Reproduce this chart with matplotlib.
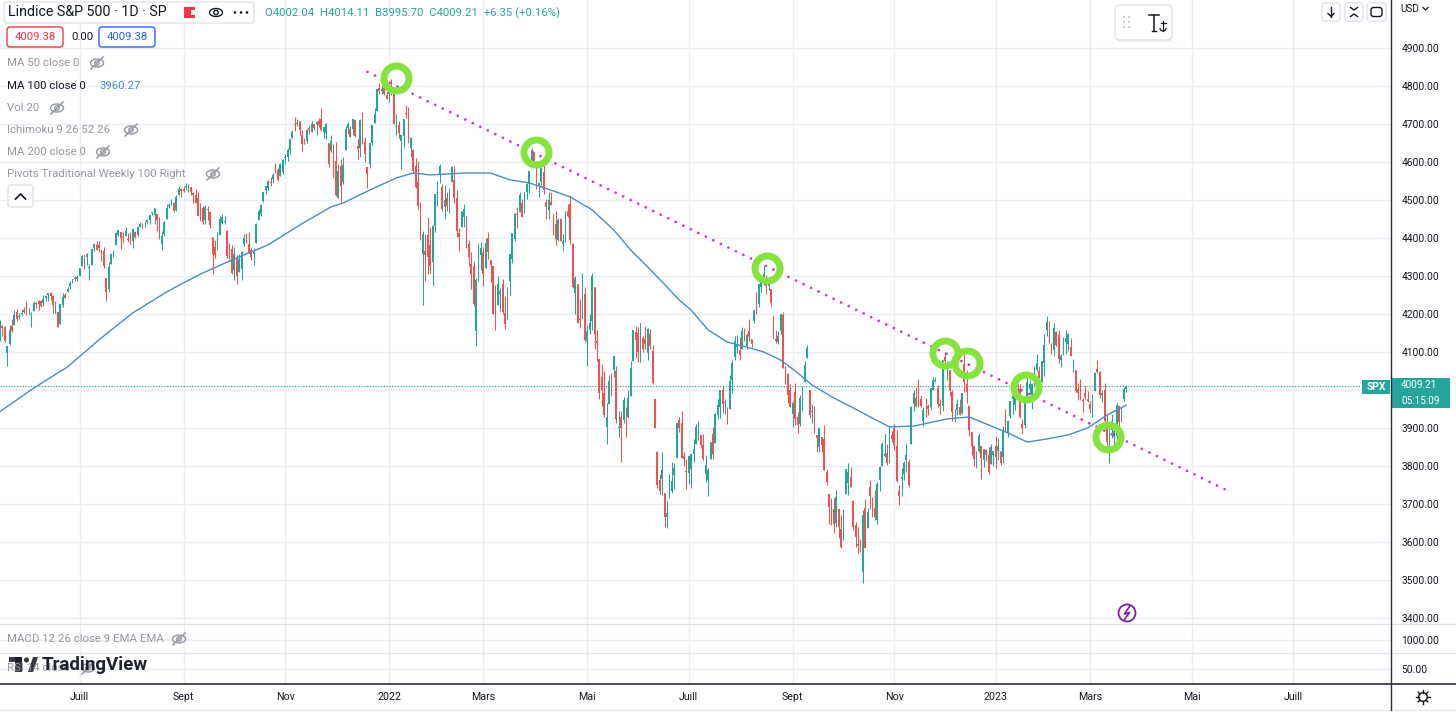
import matplotlib
matplotlib.use('Agg')
import matplotlib.pyplot as plt
from matplotlib.patches import FancyBboxPatch, Rectangle, Ellipse, Circle, Arc
import numpy as np

plt.rcParams['font.family'] = ['Roboto', 'DejaVu Sans']

# ---------------- data (S&P 500 daily, 13 May 2021 -> 22 Mar 2023) ----------------
opens = [
 4074,4130,4169,4165,4098,4122,4168,4170,4205,4192,4201,4210,
 4217,4207,4191,4207,4229,4234,4233,4229,4242,4249,4255,4248,4220,4204,4174,4224,4249,4257,4274,4285,4293,4291,
 4301,4327,4356,4351,4321,4330,4373,4382,4381,4369,4367,4296,4265,4331,4361,4381,4409,4416,4402,4404,4396,
 4407,4392,4416,4408,4429,4438,4436,4442,4447,4465,4461,4462,4440,4383,4410,4450,4484,4490,4493,4474,4514,4529,
 4529,4535,4532,4535,4518,4513,4506,4474,4479,4447,4477,4469,4402,4375,4368,4407,4439,4443,4419,4363,4370,
 4317,4348,4310,4319,4383,4406,4385,4368,4358,4387,4447,4464,4498,4525,4532,4547,4554,4578,4580,4562,4573,
 4610,4613,4631,4662,4700,4701,4707,4670,4660,4655,4689,4680,4701,4700,4708,4712,4679,4675,4650,4629,4640,
 4602,4504,4589,4548,4631,4690,4688,4688,4711,4642,4637,4720,4652,4587,4594,4651,4703,4733,4795,4788,4795,4775,
 4778,4804,4787,4693,4697,4655,4669,4729,4734,4637,4632,4589,4547,4471,4357,4367,4408,4381,4337,4432,
 4519,4567,4535,4482,4505,4480,4547,4553,4506,4413,4430,4455,4457,4385,4332,4325,4155,4298,4355,
 4364,4322,4401,4342,4327,4202,4223,4253,4279,4202,4188,4288,4345,4398,4462,4469,4493,4470,4522,4541,4603,4624,4599,
 4540,4547,4573,4495,4474,4495,4462,4437,4395,4449,4385,4390,4472,4489,4385,4256,4278,4187,4222,4253,
 4130,4159,4181,4271,4129,4081,4035,3991,3903,3963,4013,4052,4051,3900,3928,3920,3943,3930,3985,4077,4152,
 4150,4096,4137,4134,4097,4148,4102,3975,3838,3763,3765,3729,3665,3715,3734,3775,3821,3920,3913,3826,3786,
 3782,3793,3831,3858,3889,3881,3855,3779,3764,3819,3883,3860,3935,3955,3999,3966,3953,3951,4027,4087,
 4113,4105,4108,4154,4116,4156,4134,4181,4227,4225,4270,4290,4281,4274,4266,4195,4134,4126,4154,4198,4034,4041,4000,
 3937,3994,3930,3910,3959,4022,4084,4000,3941,3933,3881,3849,3876,3872,3783,3727,3682,3687,3651,3687,3633,
 3610,3726,3754,3771,3707,3646,3595,3590,3520,3690,3638,3746,3696,3689,3657,3763,3799,3825,3834,3808,3881,
 3901,3853,3734,3766,3780,3817,3810,3859,3964,3978,4007,3976,3919,3966,3957,3956,4000,4024,4005,3964,3958,
 4087,4041,4052,3996,3934,3947,3954,3940,4069,4016,3958,3890,3853,3811,3840,3853,3815,3843,3829,3805,3829,
 3853,3840,3840,3823,3910,3888,3932,3977,3961,3999,4003,3911,3909,3979,4002,3982,4036,4053,4049,4021,
 4070,4158,4137,4119,4105,4153,4144,4078,4097,4126,4120,4114,4078,4052,4002,4018,3973,3993,3977,
 3964,3939,3998,4055,4048,3988,3999,3912,3835,3894,3876,3878,3958,3917,3975,4002.04]
highs = [
 4131,4183,4171,4169,4117,4172,4188,4210,4213,4203,4213,4218,
 4234,4217,4204,4234,4232,4237,4237,4249,4249,4255,4257,4251,4233,4205,4226,4255,4256,4271,4286,4292,4300,4302,
 4321,4355,4356,4361,4331,4372,4386,4393,4393,4369,4375,4296,4337,4359,4369,4415,4422,4416,4416,4430,4412,
 4415,4423,4417,4429,4441,4439,4445,4449,4461,4468,4480,4462,4454,4418,4444,4489,4493,4502,4495,4513,4537,4532,
 4537,4546,4541,4535,4521,4529,4520,4492,4485,4487,4485,4471,4402,4394,4416,4457,4464,4457,4420,4386,4382,
 4376,4355,4359,4365,4410,4412,4416,4374,4373,4439,4476,4487,4520,4537,4552,4560,4572,4598,4584,4597,4608,
 4621,4636,4664,4683,4718,4714,4708,4685,4664,4688,4698,4709,4701,4708,4717,4743,4691,4702,4650,4672,4647,
 4652,4595,4608,4612,4694,4706,4696,4713,4711,4660,4712,4732,4666,4588,4651,4697,4741,4791,4808,4804,4808,4787,
 4797,4819,4798,4726,4708,4673,4714,4749,4744,4666,4633,4611,4603,4495,4418,4411,4454,4429,4433,4517,
 4550,4595,4542,4540,4521,4531,4590,4589,4527,4427,4472,4490,4457,4395,4362,4340,4295,4385,4389,
 4375,4401,4416,4343,4327,4277,4300,4268,4291,4248,4271,4358,4413,4466,4481,4522,4502,4520,4546,4576,4637,4627,4603,
 4547,4583,4593,4503,4521,4521,4464,4471,4453,4453,4411,4471,4489,4513,4386,4299,4279,4240,4308,4270,
 4169,4200,4308,4271,4158,4082,4069,4050,3965,4039,4046,4090,4063,3946,3944,3982,3955,3999,4075,4159,4169,
 4166,4177,4143,4169,4164,4160,4119,3975,3839,3778,3837,3729,3707,3779,3810,3809,3913,3928,3946,3837,3818,
 3827,3832,3871,3910,3919,3881,3885,3829,3796,3864,3903,3939,3975,3999,4013,3976,3954,4040,4079,4141,
 4144,4140,4167,4162,4151,4186,4135,4211,4257,4280,4302,4325,4302,4292,4266,4195,4159,4156,4200,4204,4062,4044,4015,
 3970,4019,3942,3987,4011,4076,4119,4000,3962,3957,3881,3901,3877,3908,3791,3727,3716,3717,3736,3687,3672,
 3687,3791,3807,3798,3710,3653,3640,3608,3685,3712,3689,3762,3719,3736,3758,3800,3862,3886,3859,3905,3893,
 3911,3894,3750,3796,3814,3859,3818,3958,4001,4009,4028,3983,3955,3980,3962,4004,4034,4035,4013,3976,4080,
 4101,4077,4052,4001,3951,3975,3977,3991,4101,4053,3958,3890,3855,3839,3888,3853,3846,3846,3849,3858,3840,
 3879,3874,3840,3906,3950,3920,3971,3997,4003,4015,4015,3923,3973,4039,4027,4019,4061,4095,4063,4077,
 4148,4195,4182,4124,4176,4156,4157,4094,4139,4159,4149,4136,4082,4052,4018,4028,3979,4010,3998,
 3972,3990,4048,4079,4051,4000,4018,3934,3906,3937,3894,3965,3959,3956,4009,4014.11]
lows = [
 4069,4130,4143,4125,4062,4118,4152,4170,4182,4187,4197,4203,
 4197,4198,4167,4207,4215,4210,4218,4221,4233,4234,4238,4202,4203,4165,4174,4218,4241,4257,4267,4281,4286,4287,
 4301,4327,4319,4330,4289,4330,4365,4368,4362,4340,4322,4234,4259,4331,4351,4381,4406,4372,4387,4404,4389,
 4385,4374,4400,4404,4429,4425,4430,4436,4436,4461,4438,4418,4397,4368,4406,4450,4479,4486,4468,4471,4513,4508,
 4522,4527,4522,4513,4493,4493,4457,4446,4436,4438,4448,4427,4305,4348,4368,4407,4436,4436,4347,4346,4306,
 4289,4279,4310,4290,4378,4387,4360,4342,4330,4387,4447,4458,4496,4515,4527,4537,4545,4570,4551,4562,4568,
 4595,4603,4620,4662,4681,4694,4670,4630,4648,4651,4673,4680,4684,4672,4691,4682,4662,4660,4586,4626,4560,
 4510,4504,4496,4541,4631,4674,4666,4671,4667,4607,4612,4648,4600,4531,4583,4644,4703,4733,4780,4778,4776,4766,
 4758,4775,4700,4671,4663,4582,4639,4717,4651,4614,4569,4531,4475,4396,4223,4287,4305,4309,4273,4415,
 4483,4544,4470,4451,4471,4465,4547,4492,4402,4365,4430,4430,4374,4327,4267,4221,4115,4286,4315,
 4274,4322,4346,4284,4199,4158,4223,4209,4201,4161,4187,4251,4335,4392,4425,4469,4456,4466,4502,4518,4589,4588,4530,
 4507,4539,4515,4450,4451,4487,4408,4382,4392,4392,4367,4390,4455,4385,4268,4200,4175,4162,4188,4126,
 4063,4147,4159,4107,4077,3975,3958,3929,3859,3963,3984,4034,3912,3877,3810,3913,3875,3925,3985,4077,4084,
 4074,4074,4100,4109,4080,4107,4017,3900,3743,3725,3723,3640,3637,3715,3730,3739,3821,3890,3821,3800,3739,
 3752,3742,3810,3858,3868,3847,3815,3759,3722,3818,3819,3860,3924,3927,3939,3937,3911,3951,3992,4080,
 4097,4080,4108,4128,4108,4129,4112,4177,4201,4219,4257,4277,4253,4262,4219,4133,4124,4120,4147,4057,4017,3965,3954,
 3903,3907,3886,3906,3945,4022,4084,3927,3913,3888,3837,3838,3838,3789,3750,3648,3644,3623,3640,3610,3584,
 3605,3726,3723,3744,3632,3588,3571,3573,3492,3584,3638,3687,3666,3657,3647,3733,3799,3824,3803,3808,3863,
 3843,3758,3698,3722,3762,3785,3745,3859,3944,3956,3954,3955,3906,3928,3933,3947,3999,4020,3956,3938,3944,
 4058,4027,3985,3919,3916,3935,3933,3936,3994,3965,3879,3828,3800,3796,3838,3765,3798,3813,3780,3805,3801,
 3795,3815,3803,3809,3890,3877,3925,3937,3947,3985,3927,3886,3900,3972,3990,3949,4013,4049,4015,4020,
 4038,4141,4123,4094,4089,4115,4070,4061,4092,4096,4103,4090,4048,3995,3974,3973,3943,3977,3968,
 3939,3928,3998,4045,3980,3969,3909,3847,3809,3874,3839,3864,3901,3916,3971,3995.70]
closes = [
 4112,4174,4163,4128,4116,4159,4156,4197,4188,4196,4201,4204,
 4202,4208,4193,4230,4227,4227,4220,4239,4247,4255,4247,4224,4222,4166,4225,4246,4242,4266,4281,4291,4292,4298,
 4320,4352,4344,4358,4321,4370,4385,4369,4374,4360,4327,4258,4323,4359,4367,4412,4422,4401,4401,4419,4395,
 4387,4423,4403,4429,4437,4432,4437,4448,4461,4468,4480,4448,4400,4406,4442,4480,4486,4496,4470,4509,4529,4523,
 4524,4537,4535,4520,4514,4493,4459,4469,4443,4481,4474,4433,4358,4354,4396,4449,4455,4443,4353,4359,4308,
 4357,4300,4346,4364,4400,4391,4361,4351,4364,4438,4471,4486,4520,4536,4550,4545,4566,4575,4552,4596,4605,
 4614,4631,4661,4680,4698,4702,4685,4647,4649,4683,4683,4701,4689,4705,4698,4683,4691,4701,4595,4655,4567,
 4513,4577,4538,4592,4687,4701,4667,4712,4669,4634,4710,4669,4621,4568,4649,4697,4726,4791,4786,4793,4779,4766,
 4797,4794,4701,4696,4677,4670,4713,4726,4659,4663,4577,4533,4483,4398,4410,4356,4350,4327,4432,4516,
 4547,4589,4477,4501,4484,4522,4587,4504,4419,4402,4471,4475,4380,4349,4305,4226,4289,4385,4374,
 4306,4387,4363,4329,4201,4171,4278,4260,4204,4173,4262,4358,4412,4463,4461,4512,4456,4520,4543,4576,4632,4602,4530,
 4546,4583,4525,4481,4500,4488,4413,4397,4447,4393,4392,4462,4459,4394,4272,4296,4175,4184,4288,4132,
 4155,4175,4300,4147,4123,3991,4001,3935,3930,4024,4008,4089,3924,3901,3901,3974,3941,3979,4058,4158,4132,
 4101,4177,4109,4121,4161,4116,4018,3901,3750,3735,3790,3667,3675,3765,3760,3796,3912,3900,3822,3819,3785,
 3825,3831,3845,3903,3899,3854,3819,3802,3790,3863,3831,3937,3960,3999,3962,3967,3921,4024,4072,4130,
 4119,4091,4155,4152,4145,4140,4122,4210,4207,4280,4297,4305,4274,4284,4228,4138,4129,4141,4199,4058,4031,3986,3955,
 3967,3924,3908,3980,4006,4067,4110,3933,3946,3901,3873,3900,3856,3790,3758,3693,3655,3647,3719,3640,3586,
 3678,3791,3783,3745,3640,3612,3589,3577,3670,3583,3678,3720,3695,3666,3753,3797,3859,3831,3807,3901,3872,
 3856,3760,3720,3771,3807,3828,3749,3956,3993,3957,3992,3959,3947,3965,3950,4004,4027,4026,3964,3958,4080,
 4077,4072,3999,3941,3934,3964,3934,3991,4020,3995,3896,3852,3818,3822,3878,3822,3845,3829,3783,3849,3840,
 3824,3853,3808,3895,3892,3919,3970,3983,3999,3991,3929,3899,3973,4020,4017,4016,4060,4071,4018,4077,
 4119,4180,4136,4111,4164,4118,4082,4090,4137,4136,4148,4090,4079,3997,3991,4012,3970,3982,3970,
 3951,3981,4046,4048,3986,3992,3918,3862,3856,3919,3892,3960,3917,3952,4003,4009.21]

ma100_bar = [1,15,29,42,56,70,77,84,97,112,125,138,143,154,165,172,179,193,204,212,220,229,237,
             246,255,262,269,277,282,287,294,302,310,317,324,331,337,346,354,362,369,379,393,
             402,407,418,426,434,443,451,459,467]
ma100_val = [3943,4005,4061,4132,4203,4258,4282,4305,4342,4382,4434,4482,4492,4526,4558,4571,4566,
             4571,4571,4553,4545,4526,4508,4474,4421,4368,4324,4271,4237,4210,4158,4126,4113,4100,
             4079,4045,4013,3979,3953,3926,3903,3905,3924,3929,3916,3887,3863,3871,3882,3900,3934,3960.27]

# drawn trend line (two anchors) and highlighted touches
trend_bar = [153.1, 509.3]
trend_val = [4837, 3734]
touch_bar = [164.9, 222.8, 318.3, 392.0, 401.3, 425.4, 459.6]
touch_val = [4820, 4627, 4320, 4098, 4070, 4007, 3877]

month_bar = [34, 77, 119, 162, 201, 244, 286, 329, 371, 413, 452, 494, 536]
month_lbl = ['Juill', 'Sept', 'Nov', '2022', 'Mars', 'Mai', 'Juill', 'Sept', 'Nov', '2023', 'Mars', 'Mai', 'Juill']

price_ticks = list(range(3400, 5000, 100))
last_price = 4009.21
ma100_last = 3960.27

# ---------------- style ----------------
UP = '#26a69a'
DN = '#ef5350'
MA_C = '#4a8cc4'
GRID = '#eaedf1'
TXT = '#131722'
GRAY = '#9598a1'

W, H = 1456, 722
fig = plt.figure(figsize=(W / 100, H / 100), dpi=100)
fig.patch.set_facecolor('white')
AXR = 1391


def rect(top, bottom):
    return [0, 1 - bottom / H, AXR / W, (bottom - top) / H]


ax = fig.add_axes(rect(0, 624))
axm = fig.add_axes(rect(624, 653))
axr = fig.add_axes(rect(653, 684))
XL = (1.06, 576.5)
for a in (ax, axm, axr):
    a.set_xlim(*XL)
    for s in a.spines.values():
        s.set_visible(False)
    a.set_xticks(month_bar)
    a.grid(True, axis='both', color=GRID, lw=1)
    a.tick_params(axis='x', length=0, labelbottom=False)
    a.yaxis.tick_right()
    a.tick_params(axis='y', length=0, pad=7.5, labelsize=7.4, labelcolor=TXT)
    a.set_axisbelow(True)

ax.set_ylim(3384.2, 5026.3)
ax.set_yticks(price_ticks)
# the 4000 label is covered by the last-price tag in the reference
ax.set_yticklabels(['' if abs(v - last_price) < 40 else f'{v:.2f}' for v in price_ticks])

axm.set_ylim(0, 2232)
axm.set_yticks([1000])
axm.set_yticklabels(['1000.00'])
axr.set_ylim(0, 103.3)
axr.set_yticks([50])
axr.set_yticklabels(['50.00'])
axr.set_xticklabels(month_lbl)
axr.tick_params(axis='x', labelbottom=True, pad=5.5, labelsize=7.7, labelcolor=TXT)

# candles
o = np.array(opens, float)
h = np.array(highs, float)
l = np.array(lows, float)
c = np.array(closes, float)
idx = np.arange(len(c))
cols = np.where(c >= o, UP, DN)
ax.vlines(idx, l, h, colors=cols, lw=0.75, zorder=3)
ax.bar(idx, np.maximum(np.abs(c - o), 1.5), bottom=np.minimum(o, c), width=0.72,
       color=cols, lw=0, zorder=4)

# last price dotted line
ax.axhline(last_price, xmin=0, xmax=1360 / AXR, color=UP, lw=0.8, ls=(0, (1, 1.5)), zorder=2)

# MA 100
ax.plot(ma100_bar, ma100_val, color=MA_C, lw=1.0, zorder=5)

# trend line
ax.plot(trend_bar, trend_val, color='#cf35d2', lw=2.0, dashes=(0.01, 3.0),
        dash_capstyle='round', zorder=6)
# touch circles
ax.plot(touch_bar, touch_val, ls='none', marker='o', ms=18, mfc='none', mec='#86e23c',
        mew=5, zorder=7)

# ---------------- overlay (pixel coordinates) ----------------
ov = fig.add_axes([0, 0, 1, 1])
ov.set_xlim(0, W)
ov.set_ylim(H, 0)
ov.axis('off')
ov.set_zorder(10)

ov.plot([0, W], [624, 624], color='#dfe2e8', lw=1)
ov.plot([0, W], [653, 653], color='#dfe2e8', lw=1)
ov.plot([0, W], [684, 684], color='#2a2e39', lw=1.2)
ov.plot([0, W], [710, 710], color='#e6e8ec', lw=1)
ov.plot([AXR, AXR], [0, 710], color='#2a2e39', lw=1.0)


def rbox(x, y, w, hh, ec='#e0e3eb', fc='white', r=3, lw=1.0, alpha=1.0):
    p = FancyBboxPatch((x, y), w, hh, boxstyle=f'round,pad=0,rounding_size={r}',
                       fc=fc, ec=ec, lw=lw, alpha=alpha)
    ov.add_patch(p)


def eye_slash(x, y, color=GRAY):
    ov.add_patch(Ellipse((x, y), 13, 8, fill=False, ec=color, lw=1.0))
    ov.add_patch(Circle((x, y), 2.2, fill=False, ec=color, lw=1.0))
    ov.plot([x - 6, x + 6], [y + 6, y - 6], color=color, lw=1.1)


# title box
rbox(4, 2, 250, 21)
ov.text(8, 12.5, 'Lindice S&P 500 · 1D · SP', fontsize=10.3, color=TXT, va='center', ha='left')
ov.add_patch(Rectangle((184, 7), 11, 11, fc='#f23645', ec='none'))
ov.add_patch(Rectangle((191, 10), 4.5, 5, fc='white', ec='none'))
ov.add_patch(Ellipse((216, 12.5), 13, 8, fill=False, ec=TXT, lw=1.0))
ov.add_patch(Circle((216, 12.5), 2.2, fill=False, ec=TXT, lw=1.0))
for dx in (235, 241, 247):
    ov.add_patch(Circle((dx, 12.5), 1.3, fc=TXT, ec='none'))
ov.text(265, 13, 'O4002.04  H4014.11  B3995.70  C4009.21  +6.35 (+0.16%)', fontsize=8.2,
        color=UP, va='center', ha='left')

# row 2 values
rbox(7, 27, 56, 20, ec='#f23645')
ov.text(35, 37.5, '4009.38', fontsize=8.2, color='#f23645', va='center', ha='center')
ov.text(71, 37.5, '0.00', fontsize=8.2, color=TXT, va='center', ha='left')
rbox(99, 27, 56, 20, ec='#2962ff')
ov.text(127, 37.5, '4009.38', fontsize=8.2, color='#2962ff', va='center', ha='center')

# indicator legend
ov.text(7, 63, 'MA 50 close 0', fontsize=8.2, color=GRAY, va='center')
eye_slash(97, 63)
ov.text(7, 86, 'MA 100 close 0', fontsize=8.2, color=TXT, va='center')
ov.text(99, 86, f'{ma100_last:.2f}', fontsize=8.2, color=MA_C, va='center')
ov.text(7, 108, 'Vol 20', fontsize=8.2, color=GRAY, va='center')
eye_slash(57, 108)
ov.text(7, 130, 'Ichimoku 9 26 52 26', fontsize=8.2, color=GRAY, va='center')
eye_slash(131, 130)
ov.text(7, 152, 'MA 200 close 0', fontsize=8.2, color=GRAY, va='center')
eye_slash(103, 152)
ov.text(7, 174, 'Pivots Traditional Weekly 100 Right', fontsize=8.2, color=GRAY, va='center')
eye_slash(213, 174)
rbox(8, 185, 25, 22)
ov.plot([15.5, 20.5, 25.5], [199, 194, 199], color=TXT, lw=1.2)

# lower pane legends and logo (the logo sits over the RSI legend, as in the reference)
ov.text(7, 639, 'MACD 12 26 close 9 EMA EMA', fontsize=8.2, color=GRAY, va='center')
eye_slash(179, 639)
ov.text(7, 668, 'RSI 14 close', fontsize=8.2, color=GRAY, va='center')
eye_slash(88, 668)
ov.add_patch(Rectangle((9, 657), 13, 5, fc='#131722', ec='none', alpha=0.85))
ov.add_patch(Rectangle((15, 657), 7, 15, fc='#131722', ec='none', alpha=0.85))
ov.add_patch(Circle((26.5, 660), 2.6, fc='#131722', ec='none', alpha=0.85))
ov.fill([28, 33, 38, 33], [672, 657, 657, 672], color='#131722', alpha=0.85, lw=0)
ov.text(42, 665, 'TradingView', fontsize=13.5, fontweight='bold', color=TXT, va='center',
        ha='left', alpha=0.95)

# top right buttons
rbox(1322, 3, 18, 18)
ov.plot([1331, 1331], [7, 16.5], color=TXT, lw=1.0)
ov.plot([1328, 1331, 1334], [13.5, 16.5, 13.5], color=TXT, lw=1.0)
rbox(1345, 3, 18, 18)
ov.plot([1350.5, 1354, 1357.5], [7.5, 10, 7.5], color=TXT, lw=1.0)
ov.plot([1350.5, 1354, 1357.5], [16.5, 14, 16.5], color=TXT, lw=1.0)
rbox(1367, 3, 19, 18)
rbox(1371, 7.5, 11, 9, ec=TXT, r=2.5)
ov.text(1400, 8.5, 'USD', fontsize=7.2, color=TXT, va='center', ha='left')
ov.plot([1423, 1425.5, 1428], [7.5, 10, 7.5], color=TXT, lw=0.9)

# floating text-anchor toolbar
rbox(1116, 7, 57, 35, fc='#000000', ec='none', r=5, alpha=0.06)
rbox(1115, 5, 57, 35, r=5)
for yy in (17, 22, 27):
    for xx in (1124, 1129):
        ov.add_patch(Circle((xx, yy), 0.9, fc='#b2b5be', ec='none'))
ov.plot([1149, 1159], [15, 15], color=TXT, lw=1.1)
ov.plot([1154, 1154], [15, 31], color=TXT, lw=1.1)
ov.plot([1152, 1156], [31, 31], color=TXT, lw=1.0)
ov.plot([1163, 1163], [21, 31], color=TXT, lw=0.9)
ov.plot([1160.5, 1165.5], [23, 23], color=TXT, lw=0.9)
ov.add_patch(Arc((1163, 28), 6, 6, theta1=0, theta2=180, ec=TXT, lw=0.9))

# last price labels
ov.add_patch(Rectangle((1362, 380), 28, 14, fc=UP, ec='none'))
ov.text(1376, 387.5, 'SPX', fontsize=7.4, fontweight='bold', color='white', va='center', ha='center')
ov.add_patch(Rectangle((1392, 378), 58, 30, fc=UP, ec='none'))
ov.text(1401, 385.5, f'{last_price:.2f}', fontsize=7.2, color='white', va='center', ha='left')
ov.text(1401, 400.5, '05:15:09', fontsize=7.2, color='white', va='center', ha='left')

# lightning icon
ov.add_patch(Circle((1127, 613), 8.5, fill=False, ec='#7b1fa2', lw=1.3))
ov.plot([1129.5, 1124.5, 1129.5, 1124.5], [606.5, 614, 612.5, 619.5], color='#7b1fa2', lw=1.2)

# settings icon
ov.add_patch(Circle((1423, 697), 4.3, fill=False, ec=TXT, lw=1.0))
ang = np.linspace(0, 2 * np.pi, 9)[:-1]
for a_ in ang:
    ov.plot([1423 + 4.3 * np.cos(a_), 1423 + 6.8 * np.cos(a_)],
            [697 + 4.3 * np.sin(a_), 697 + 6.8 * np.sin(a_)], color=TXT, lw=1.0)

fig.savefig('out.png', dpi=100, facecolor='white')
